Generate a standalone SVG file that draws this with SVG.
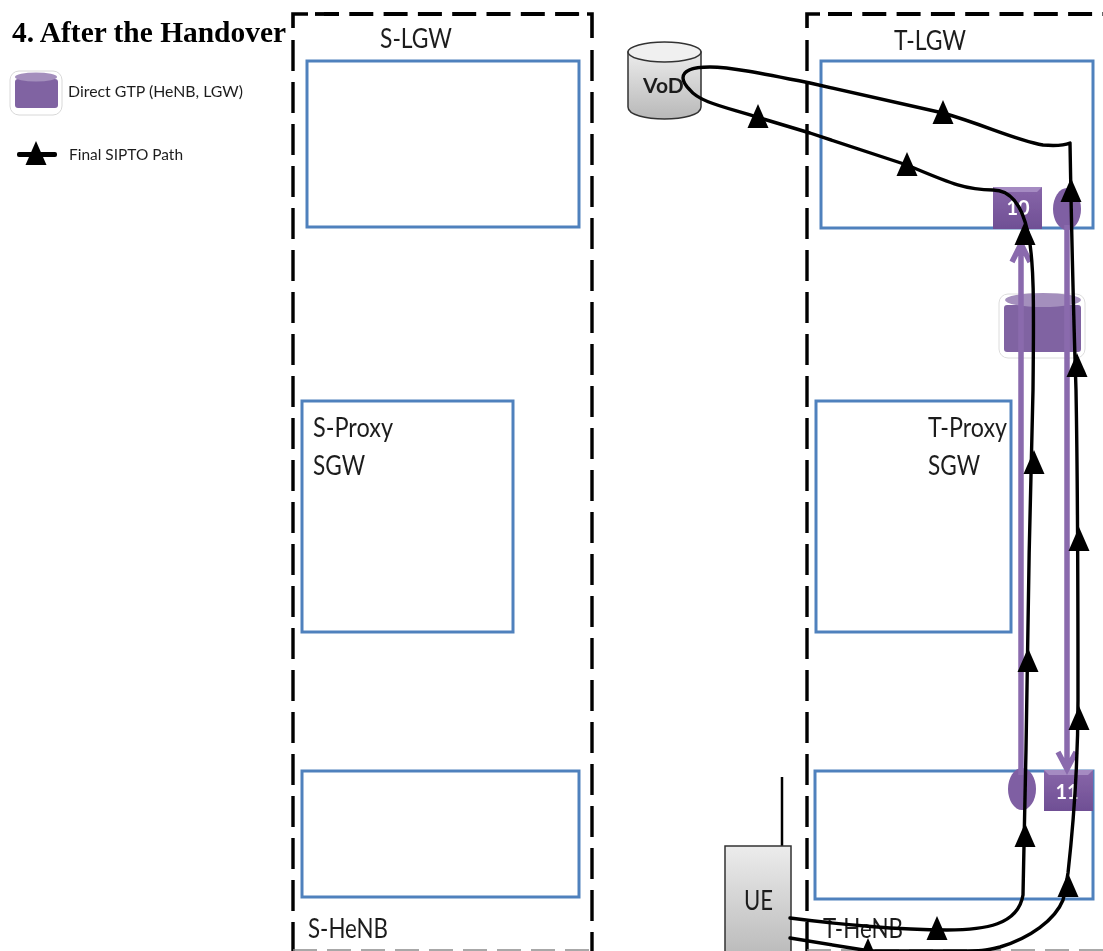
<svg xmlns="http://www.w3.org/2000/svg" width="1103" height="951" viewBox="0 0 1103 951">
<defs>
<linearGradient id="g" x1="0" y1="0" x2="0" y2="1"><stop offset="0" stop-color="#ececec"/><stop offset="1" stop-color="#b8b8b8"/></linearGradient>
<linearGradient id="p" x1="0" y1="0" x2="0" y2="1"><stop offset="0" stop-color="#8866a9"/><stop offset="1" stop-color="#6f4f94"/></linearGradient>
<polygon id="tri" points="0,-22 10.500,2 -10.500,2" fill="#000"/>
<filter id="soft" x="0" y="0" width="1103" height="951" filterUnits="userSpaceOnUse"><feGaussianBlur stdDeviation="0.45"/></filter>
</defs>
<style>
text{font-family:Lato,"Open Sans","Liberation Sans",sans-serif;fill:#1f1f1f}
.lb{font-size:27px}
.num{font-size:20px;fill:#fff;font-weight:700;text-anchor:middle}
.box{fill:none;stroke:#4f81bd;stroke-width:3}
.v{fill:none;stroke:#000;stroke-width:3.400;stroke-dasharray:31 11}
.c{fill:none;stroke:#000;stroke-width:3.600}
.h{fill:none;stroke:#000;stroke-width:3.800;stroke-dasharray:24 10.300}
.bot{fill:none;stroke:#8c8c8c;stroke-width:1.500;stroke-dasharray:24 10}
.blk{fill:none;stroke:#000;stroke-width:3.400;stroke-linecap:round;stroke-linejoin:round}
.pl{fill:none;stroke:#8a6bad;stroke-width:5.500}
</style>
<g filter="url(#soft)">
<g id="title"><text x="12" y="42" textLength="274" lengthAdjust="spacingAndGlyphs" style="font-family:'Liberation Serif',serif;font-weight:700;font-size:30px;fill:#000">4. After the Handover</text></g>
<g id="legend">
<rect x="10" y="71" width="52" height="44" rx="9" fill="#fff" stroke="#d8d8d8"/>
<rect x="15" y="79" width="43" height="29" rx="3" fill="#8064a2"/>
<ellipse cx="36" cy="77" rx="21" ry="4.500" fill="#a48fbd"/>
<text x="68" y="97" textLength="175" lengthAdjust="spacingAndGlyphs" style="font-size:15px">Direct GTP (HeNB, LGW)</text>
<rect x="17" y="152" width="40" height="5" rx="2" fill="#000"/><use href="#tri" transform="translate(36,163)"/>
<text x="69" y="160" textLength="114" lengthAdjust="spacingAndGlyphs" style="font-size:15px">Final SIPTO Path</text>
</g>
<g id="s-lgw-zone">
<path class="v" d="M293,40V951"/><path class="v" d="M592,50V951"/>
<path class="c" d="M293,28V14H308"/><path class="c" d="M587,14H592V38"/>
<path class="h" d="M315,14H585"/><path class="bot" d="M293,950H592"/>
<text class="lb" x="380" y="48" textLength="72" lengthAdjust="spacingAndGlyphs">S-LGW</text></g>
<g id="t-lgw-zone">
<path class="v" d="M807,40V951"/><path class="c" d="M807,28V14H820"/>
<path class="h" d="M828,14H1103"/><path class="bot" d="M807,950H1103"/>
<text class="lb" x="894" y="50" textLength="72" lengthAdjust="spacingAndGlyphs">T-LGW</text></g>
<g id="s-lgw"><rect class="box" x="307" y="61" width="272" height="166"/></g>
<g id="s-proxy"><rect class="box" x="302" y="401" width="211" height="231"/><text class="lb" x="313" y="437" textLength="80" lengthAdjust="spacingAndGlyphs">S-Proxy</text><text class="lb" x="313" y="475" textLength="52" lengthAdjust="spacingAndGlyphs">SGW</text></g>
<g id="s-henb"><rect class="box" x="302" y="771" width="277" height="126"/><text class="lb" x="308" y="938" textLength="80" lengthAdjust="spacingAndGlyphs">S-HeNB</text></g>
<g id="t-lgw"><rect class="box" x="821" y="61" width="272" height="167"/></g>
<g id="t-proxy"><rect class="box" x="816" y="401" width="195" height="231"/><text class="lb" x="928" y="437" textLength="79" lengthAdjust="spacingAndGlyphs">T-Proxy</text><text class="lb" x="928" y="475" textLength="52" lengthAdjust="spacingAndGlyphs">SGW</text></g>
<g id="t-henb"><rect class="box" x="815" y="771" width="278" height="128"/><text class="lb" x="823" y="938" textLength="80" lengthAdjust="spacingAndGlyphs">T-HeNB</text></g>
<g id="vod">
<path d="M628,52V107C628,123 701,123 701,107V52Z" fill="url(#g)" stroke="#333" stroke-width="1.500"/>
<ellipse cx="664.500" cy="52" rx="36.500" ry="10" fill="#f0f0f0" stroke="#333" stroke-width="1.500"/>
<text x="643" y="93" style="font-size:21px;font-weight:700">VoD</text>
</g>
<g id="cylinder">
<rect x="999" y="294" width="86" height="64" rx="9" fill="#fff" stroke="#dcdcdc"/>
<rect x="1004" y="305" width="77" height="47" rx="3" fill="#8064a2"/>
<ellipse cx="1043" cy="300" rx="38" ry="7" fill="#a48fbd"/>
</g>
<g id="tun-10"><rect x="993" y="187" width="49" height="42" fill="url(#p)"/><polygon points="993,187 1042,187 1037,192 998,192" fill="#a58bc2"/><text class="num" x="1018" y="215">10</text></g>
<g id="tun-lgw"><ellipse cx="1067" cy="209" rx="14" ry="21" fill="#7f5fa3"/></g>
<g id="tun-henb"><ellipse cx="1022" cy="789" rx="14" ry="21" fill="#7f5fa3"/></g>
<g id="tun-11"><rect x="1044" y="770" width="49" height="41" fill="url(#p)"/><polygon points="1044,770 1093,770 1088,775 1049,775" fill="#a58bc2"/><text class="num" x="1067" y="799">11</text></g>
<g id="ue">
<line x1="782" y1="777" x2="782" y2="846" stroke="#000" stroke-width="2.500"/>
<rect x="725" y="846" width="66" height="115" fill="url(#g)" stroke="#333" stroke-width="1.500"/>
<text x="744" y="910" class="lb" textLength="29" lengthAdjust="spacingAndGlyphs">UE</text>
</g>
<g id="connectors">
<path class="pl" d="M1021,775V248M1012,262L1021,244L1030,262"/>
<path class="pl" d="M1067,225V768M1058,752L1067,769L1076,752"/>
<path class="blk" d="M790,918C835,924 900,930 947,930C985,930 1018,925 1023,895C1024,850 1025,790 1026,750C1027,650 1030,500 1033,390C1034,300 1034,260 1028,233C1022,205 1010,190 993,190C965,190 950,183 907,165L810,133L760,118C730,108 700,103 690,90C685,85 683,82 683,78C683,70 695,67 710,67C730,67 760,73 810,83L943,113C985,125 1015,140 1043,145C1055,146 1065,145 1070,143C1071,200 1073,300 1076,390C1078,500 1078,600 1078,700C1078,750 1075,810 1068,873C1066,885 1065,892 1063,900C1055,920 1030,938 1000,947C985,951 980,951 960,951H870L790,938"/>
<use href="#tri" transform="translate(758,126)"/>
<use href="#tri" transform="translate(943,122)"/>
<use href="#tri" transform="translate(907,174)"/>
<use href="#tri" transform="translate(1025,243)"/>
<use href="#tri" transform="translate(1071,200)"/>
<use href="#tri" transform="translate(1077,375)"/>
<use href="#tri" transform="translate(1034,472)"/>
<use href="#tri" transform="translate(1079,549)"/>
<use href="#tri" transform="translate(1028,670)"/>
<use href="#tri" transform="translate(1079,728)"/>
<use href="#tri" transform="translate(1025,845)"/>
<use href="#tri" transform="translate(1068,895)"/>
<use href="#tri" transform="translate(937,938)"/>
<use href="#tri" transform="translate(868,960)"/>
</g>
</g>
</svg>
